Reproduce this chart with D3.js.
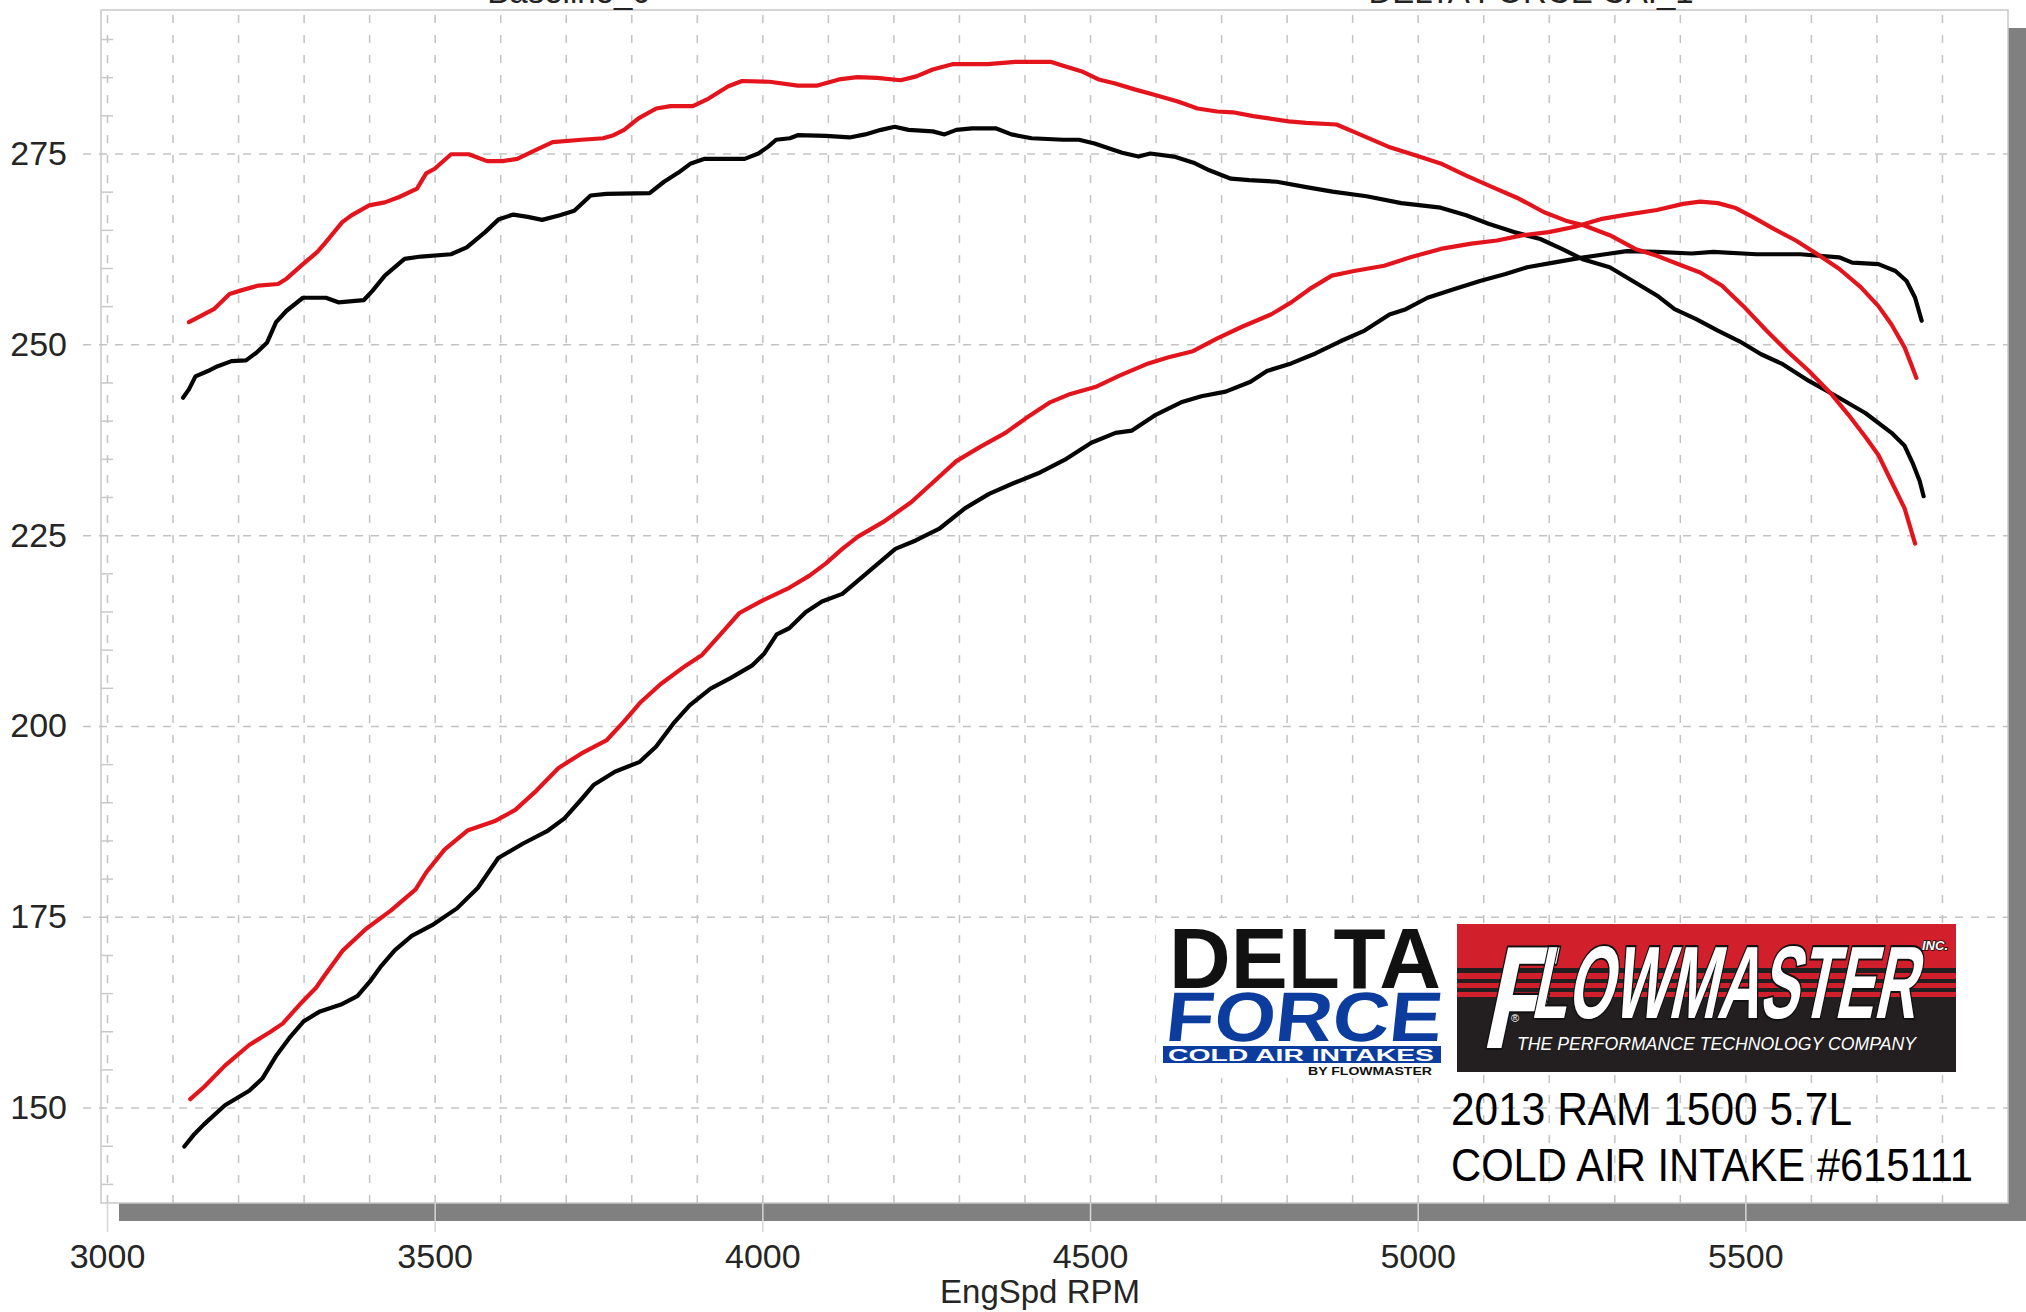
<!DOCTYPE html>
<html>
<head>
<meta charset="utf-8">
<script src="https://cdn.jsdelivr.net/npm/d3@7"></script>
<style>
  html, body { margin: 0; padding: 0; background: #fff; overflow: hidden; }
  svg { display: block; }
  text { font-family: "Liberation Sans", Arial, sans-serif; }
</style>
</head>
<body>
<div id="dynoChart"></div>
<script>
/* CONSTANTS AND GLOBALS */
const width = 2026,
  height = 1312,
  frame = { left: 101, top: 10, right: 2008, bottom: 1203 },
  shadowOffset = 18;

/********/
/* DATA */
/********/

const runTitles = ["Baseline_0", "DELTA FORCE CAI_1"];
const xTicks = [3000, 3500, 4000, 4500, 5000, 5500];
const yTicks = [150, 175, 200, 225, 250, 275];
const xLabel = "EngSpd RPM";
const vehicleLines = ["2013 RAM 1500 5.7L", "COLD AIR INTAKE #615111"];

// [rpm, value]  baseline run (black)
const baseTorque = [
  [3116,243.0],[3125,244.1],[3135,245.8],[3154,246.5],[3168,247.1],[3190,247.8],[3212,247.9],
  [3228,248.9],[3244,250.2],[3258,252.9],[3274,254.4],[3299,256.1],[3334,256.1],[3353,255.5],
  [3392,255.8],[3405,257.0],[3424,259.0],[3454,261.2],[3479,261.5],[3525,261.8],[3549,262.7],
  [3577,264.7],[3598,266.4],[3620,267.0],[3642,266.7],[3664,266.3],[3691,266.9],[3713,267.5],
  [3738,269.5],[3762,269.7],[3828,269.8],[3850,271.3],[3872,272.5],[3891,273.7],[3912,274.3],
  [3973,274.3],[3994,275.0],[4009,275.9],[4021,276.8],[4042,277.0],[4054,277.4],[4097,277.3],
  [4133,277.1],[4157,277.5],[4181,278.1],[4202,278.5],[4223,278.1],[4260,277.9],[4278,277.5],
  [4296,278.1],[4320,278.3],[4356,278.3],[4380,277.5],[4411,277.0],[4459,276.8],[4483,276.8],
  [4507,276.3],[4525,275.8],[4549,275.1],[4574,274.6],[4592,275.0],[4628,274.6],[4658,273.8],
  [4682,272.8],[4715,271.7],[4743,271.5],[4785,271.3],[4830,270.6],[4870,270.0],[4922,269.4],
  [4975,268.5],[5035,267.9],[5074,266.9],[5108,265.8],[5147,264.7],[5187,263.8],[5220,262.5],
  [5253,261.1],[5293,260.1],[5332,258.1],[5365,256.4],[5392,254.6],[5425,253.3],[5458,251.8],
  [5491,250.4],[5524,248.7],[5557,247.4],[5597,245.2],[5643,243.0],[5683,241.0],[5723,238.4],
  [5743,236.7],[5756,234.3],[5766,232.1],[5772,230.1]
];

const baseHp = [
  [3118,144.9],[3132,146.4],[3148,147.8],[3180,150.3],[3217,152.2],[3237,153.8],[3259,156.9],
  [3278,159.1],[3300,161.3],[3325,162.6],[3357,163.5],[3382,164.6],[3401,166.5],[3417,168.4],
  [3439,170.6],[3465,172.5],[3496,173.9],[3534,176.1],[3566,178.8],[3597,182.7],[3635,184.6],
  [3673,186.3],[3698,187.9],[3724,190.4],[3743,192.3],[3775,194.0],[3813,195.3],[3838,197.3],
  [3864,200.3],[3889,202.7],[3921,204.9],[3952,206.3],[3984,207.9],[4003,209.5],[4022,212.0],
  [4041,212.8],[4066,214.9],[4091,216.3],[4122,217.3],[4159,220.0],[4203,223.2],[4234,224.3],
  [4271,225.9],[4309,228.5],[4346,230.4],[4383,231.8],[4421,233.1],[4464,235.0],[4502,237.1],
  [4539,238.4],[4564,238.7],[4601,240.8],[4639,242.4],[4670,243.2],[4707,243.8],[4745,245.1],
  [4770,246.5],[4807,247.5],[4844,248.8],[4882,250.4],[4919,251.8],[4957,253.9],[4982,254.6],
  [5015,256.1],[5055,257.2],[5095,258.3],[5134,259.2],[5167,260.1],[5207,260.7],[5246,261.3],
  [5286,261.8],[5319,262.2],[5365,262.1],[5418,261.9],[5451,262.1],[5517,261.8],[5584,261.8],
  [5643,261.4],[5663,260.7],[5703,260.5],[5729,259.6],[5746,258.3],[5759,256.1],[5769,253.1]
];

// [rpm, value]  Delta Force cold air intake run (red)
const caiTorque = [
  [3125,252.9],[3163,254.6],[3187,256.6],[3206,257.1],[3231,257.7],[3261,257.9],[3274,258.6],
  [3299,260.5],[3321,262.1],[3332,263.2],[3359,266.0],[3373,266.9],[3400,268.2],[3424,268.6],
  [3446,269.3],[3473,270.4],[3487,272.4],[3500,273.0],[3525,274.9],[3552,274.9],[3580,274.0],
  [3604,274.0],[3626,274.3],[3653,275.4],[3680,276.5],[3724,276.8],[3757,277.0],[3773,277.4],
  [3789,278.1],[3811,279.6],[3838,280.9],[3860,281.2],[3894,281.2],[3918,282.2],[3948,283.8],
  [3969,284.5],[4011,284.4],[4054,283.9],[4084,283.9],[4117,284.7],[4145,285.0],[4175,284.9],
  [4211,284.6],[4235,285.1],[4260,286.0],[4290,286.7],[4344,286.7],[4386,287.0],[4441,287.0],
  [4459,286.5],[4489,285.7],[4513,284.7],[4537,284.2],[4568,283.4],[4598,282.7],[4634,281.8],
  [4664,280.9],[4694,280.5],[4718,280.4],[4749,279.9],[4773,279.6],[4803,279.2],[4830,279.0],
  [4876,278.8],[4909,277.6],[4955,275.9],[4995,274.8],[5035,273.7],[5074,272.1],[5114,270.6],
  [5154,269.1],[5193,267.3],[5226,266.2],[5253,265.6],[5293,264.3],[5332,262.5],[5365,261.6],
  [5398,260.5],[5431,259.4],[5464,257.7],[5497,255.0],[5531,251.9],[5564,249.1],[5597,246.5],
  [5630,243.6],[5657,240.8],[5683,237.9],[5703,235.5],[5723,232.0],[5743,228.5],[5759,223.9]
];

const caiHp = [
  [3127,151.1],[3148,152.7],[3180,155.5],[3217,158.2],[3249,159.9],[3268,161.0],[3294,163.5],
  [3319,165.7],[3332,167.3],[3360,170.6],[3395,173.4],[3433,175.8],[3471,178.6],[3487,180.8],
  [3515,183.8],[3550,186.3],[3591,187.5],[3623,189.0],[3655,191.5],[3689,194.5],[3724,196.4],
  [3762,198.1],[3788,200.5],[3813,203.0],[3845,205.5],[3883,207.9],[3908,209.3],[3934,211.8],
  [3965,214.8],[3997,216.3],[4041,218.1],[4072,219.7],[4097,221.3],[4122,223.2],[4146,224.8],
  [4184,226.7],[4227,229.3],[4259,231.8],[4296,234.7],[4333,236.6],[4371,238.4],[4402,240.3],
  [4439,242.4],[4470,243.5],[4508,244.4],[4545,245.9],[4589,247.5],[4620,248.3],[4657,249.1],
  [4695,250.8],[4732,252.3],[4776,253.9],[4807,255.5],[4838,257.4],[4869,259.0],[4903,259.6],
  [4949,260.3],[4989,261.4],[5035,262.5],[5082,263.2],[5121,263.6],[5161,264.3],[5200,264.7],
  [5240,265.4],[5279,266.4],[5319,267.0],[5365,267.6],[5405,268.4],[5431,268.7],[5458,268.5],
  [5484,267.9],[5511,266.7],[5544,265.1],[5577,263.6],[5610,261.8],[5643,259.9],[5676,257.5],
  [5703,255.0],[5723,252.6],[5743,249.6],[5753,247.4],[5761,245.6]
];

const runs = [
  { name: "baseline torque", data: baseTorque, color: "#050505" },
  { name: "baseline hp", data: baseHp, color: "#050505" },
  { name: "cai torque", data: caiTorque, color: "#e3141c" },
  { name: "cai hp", data: caiHp, color: "#e3141c" }
];

/**********/
/* SCALES */
/**********/

const xScale = d3.scaleLinear()
  .domain([3000, 5900])
  .range([107, 2007.5]);

const yScale = d3.scaleLinear()
  .domain([137.5, 293.8])
  .range([frame.bottom, frame.top]);

/****************/
/* SVG ELEMENTS */
/****************/

const svg = d3.select("#dynoChart")
  .append("svg")
  .attr("width", width)
  .attr("height", height)
  .style("background-color", "#ffffff");

// drop shadow + plot box
svg.append("rect")
  .attr("x", frame.left + shadowOffset)
  .attr("y", frame.top + shadowOffset)
  .attr("width", frame.right - frame.left)
  .attr("height", frame.bottom - frame.top)
  .attr("fill", "#808080");

svg.append("rect")
  .attr("x", frame.left)
  .attr("y", frame.top)
  .attr("width", frame.right - frame.left)
  .attr("height", frame.bottom - frame.top)
  .attr("fill", "#ffffff")
  .attr("stroke", "#c8c8c8")
  .attr("stroke-width", 1.5);

// run titles, mostly cut off at the top edge
svg.selectAll(".run-title")
  .data(runTitles)
  .join("text")
  .attr("class", "run-title")
  .attr("x", (d, i) => i === 0 ? 569 : 1531)
  .attr("y", 3)
  .attr("text-anchor", "middle")
  .attr("font-size", 33)
  .attr("fill", "#222")
  .text(d => d);

/********/
/* GRID */
/********/

const minorX = d3.range(3000, 5900, 100);
const minorY = d3.range(140, 291, 5).filter(v => v % 25 !== 0);

const xGrid = svg.append("g")
  .attr("class", "x-grid")
  .attr("transform", `translate(0,${frame.bottom})`)
  .call(d3.axisBottom(xScale).tickValues(minorX).tickSize(-(frame.bottom - frame.top)).tickFormat(""));

const yGrid = svg.append("g")
  .attr("class", "y-grid")
  .attr("transform", `translate(83,0)`)
  .call(d3.axisLeft(yScale).tickValues(yTicks).tickSize(-(frame.right - 83)).tickFormat(""));

const yMinor = svg.append("g")
  .attr("class", "y-minor")
  .attr("transform", `translate(${frame.left},0)`)
  .call(d3.axisLeft(yScale).tickValues(minorY).tickSize(-12).tickFormat(""));

// major rpm ticks run on through the shadow
const xMajor = svg.append("g")
  .attr("class", "x-major")
  .attr("transform", `translate(0,${frame.bottom})`)
  .call(d3.axisBottom(xScale).tickValues(xTicks).tickSize(29).tickFormat(""));

[xGrid, yGrid, yMinor, xMajor].forEach(g => g.select(".domain").remove());
xGrid.selectAll("line").attr("stroke", "#c3c3c3").attr("stroke-width", 1.5).attr("stroke-dasharray", "8,12");
yGrid.selectAll("line").attr("stroke", "#c3c3c3").attr("stroke-width", 1.5).attr("stroke-dasharray", "8,8");
yMinor.selectAll("line").attr("stroke", "#c8c8c8").attr("stroke-width", 1.5);
xMajor.selectAll("line").attr("stroke", "#d6d6d6").attr("stroke-width", 1.5);

/********/
/* AXES */
/********/

const xAxis = svg.append("g")
  .attr("class", "x-axis")
  .attr("transform", `translate(0,${frame.bottom})`)
  .call(d3.axisBottom(xScale).tickValues(xTicks).tickFormat(d3.format("d")).tickSize(0).tickPadding(41));

const yAxis = svg.append("g")
  .attr("class", "y-axis")
  .attr("transform", `translate(70,0)`)
  .call(d3.axisLeft(yScale).tickValues(yTicks).tickSize(0).tickPadding(3));

[xAxis, yAxis].forEach(g => {
  g.select(".domain").remove();
  g.selectAll("text")
    .attr("font-size", 34)
    .attr("font-family", "'Liberation Sans', Arial, sans-serif")
    .attr("fill", "#252525");
});

svg.append("text")
  .attr("x", 1040)
  .attr("y", 1303)
  .attr("text-anchor", "middle")
  .attr("font-size", 33)
  .attr("fill", "#252525")
  .text(xLabel);

/**************/
/* DRAW LINES */
/**************/

const lineGen = d3.line()
  .x(d => xScale(d[0]))
  .y(d => yScale(d[1]));

svg.selectAll(".run")
  .data(runs)
  .join("path")
  .attr("class", "run")
  .attr("fill", "none")
  .attr("stroke", d => d.color)
  .attr("stroke-width", 4.2)
  .attr("stroke-linejoin", "round")
  .attr("stroke-linecap", "round")
  .attr("d", d => lineGen(d.data));

/*********/
/* LOGOS */
/*********/

// Delta Force
const delta = svg.append("g").attr("class", "delta-logo");
delta.append("rect").attr("x", 1156).attr("y", 918).attr("width", 294).attr("height", 160).attr("fill", "#fff");
delta.append("text")
  .attr("x", 1169).attr("y", 988)
  .attr("font-family", "'DejaVu Sans', sans-serif").attr("font-weight", "bold")
  .attr("font-size", 86).attr("textLength", 272).attr("lengthAdjust", "spacingAndGlyphs")
  .attr("fill", "#111")
  .text("DELTA");
delta.append("g")
  .attr("transform", "translate(1164,1041) skewX(-6)")
  .append("text")
  .attr("font-family", "'DejaVu Sans', sans-serif").attr("font-weight", "bold")
  .attr("font-size", 70).attr("textLength", 276).attr("lengthAdjust", "spacingAndGlyphs")
  .attr("fill", "#0c3c9e")
  .text("FORCE");
delta.append("rect").attr("x", 1163).attr("y", 1046).attr("width", 278).attr("height", 17).attr("fill", "#0c3c9e");
delta.append("text")
  .attr("x", 1168).attr("y", 1061)
  .attr("font-family", "'DejaVu Sans', sans-serif").attr("font-weight", "bold")
  .attr("font-size", 16).attr("textLength", 266).attr("lengthAdjust", "spacingAndGlyphs")
  .attr("fill", "#fff")
  .text("COLD AIR INTAKES");
delta.append("text")
  .attr("x", 1308).attr("y", 1075)
  .attr("font-family", "'DejaVu Sans', sans-serif").attr("font-weight", "bold")
  .attr("font-size", 11).attr("textLength", 124).attr("lengthAdjust", "spacingAndGlyphs")
  .attr("fill", "#111")
  .text("BY FLOWMASTER");

// Flowmaster
const fm = svg.append("g").attr("class", "flowmaster-logo");
fm.append("rect").attr("x", 1457).attr("y", 924).attr("width", 499).attr("height", 148).attr("fill", "#d11f2b");
fm.append("rect").attr("x", 1457).attr("y", 997).attr("width", 499).attr("height", 75).attr("fill", "#231f20");
fm.selectAll(".stripe")
  .data([[968, 5], [979, 4], [988, 4]])
  .join("rect")
  .attr("class", "stripe")
  .attr("x", 1457).attr("y", d => d[0]).attr("width", 499).attr("height", d => d[1])
  .attr("fill", "#231f20");

fm.append("g")
  .attr("transform", "translate(1480,1048) skewX(-12)")
  .append("text")
  .attr("font-family", "'DejaVu Sans', sans-serif").attr("font-weight", "bold")
  .attr("font-size", 146).attr("textLength", 62).attr("lengthAdjust", "spacingAndGlyphs")
  .attr("fill", "#fff").attr("stroke", "#111").attr("stroke-width", 4).attr("paint-order", "stroke")
  .text("F");
fm.append("g")
  .attr("transform", "translate(1530,1018) skewX(-12)")
  .append("text")
  .attr("font-family", "'DejaVu Sans', sans-serif").attr("font-weight", "bold")
  .attr("font-size", 103).attr("textLength", 385).attr("lengthAdjust", "spacingAndGlyphs")
  .attr("fill", "#fff").attr("stroke", "#111").attr("stroke-width", 4).attr("paint-order", "stroke")
  .text("LOWMASTER");
fm.append("text")
  .attr("x", 1922).attr("y", 950)
  .attr("font-weight", "bold").attr("font-style", "italic").attr("font-size", 13)
  .attr("fill", "#fff").attr("stroke", "#111").attr("stroke-width", 1.5).attr("paint-order", "stroke")
  .text("INC.");
fm.append("text")
  .attr("x", 1511).attr("y", 1022)
  .attr("font-size", 11).attr("fill", "#fff")
  .text("®");
fm.append("text")
  .attr("x", 1517).attr("y", 1050)
  .attr("font-style", "italic").attr("font-size", 19)
  .attr("textLength", 399).attr("lengthAdjust", "spacingAndGlyphs")
  .attr("fill", "#fff")
  .text("THE PERFORMANCE TECHNOLOGY COMPANY");

// vehicle caption
svg.selectAll(".caption")
  .data(vehicleLines)
  .join("text")
  .attr("class", "caption")
  .attr("x", 1451)
  .attr("y", (d, i) => i === 0 ? 1125 : 1181)
  .attr("font-family", "'Open Sans', sans-serif")
  .attr("font-size", 47)
  .attr("textLength", (d, i) => i === 0 ? 401 : 522)
  .attr("lengthAdjust", "spacingAndGlyphs")
  .attr("fill", "#000")
  .text(d => d);
</script>
</body>
</html>
